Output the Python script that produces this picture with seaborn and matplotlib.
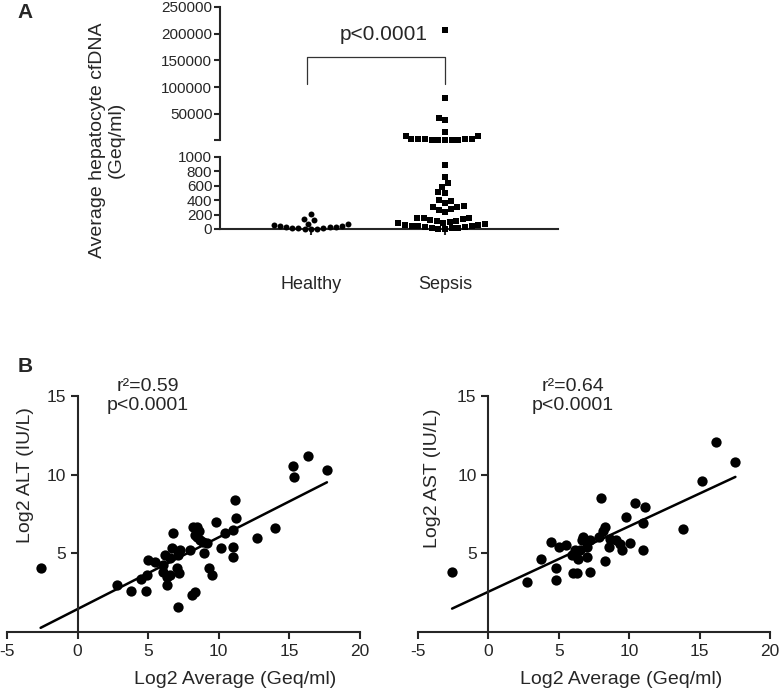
import numpy as np
import pandas as pd
import matplotlib
matplotlib.use('Agg')
import matplotlib.pyplot as plt
import seaborn as sns

# ---- panel A: hepatocyte cfDNA (Geq/ml) ----
groups = ['Healthy', 'Sepsis']
healthy_cfdna = [0, 3, 6, 10, 14, 18, 23, 28, 34, 40, 48, 56, 65, 75, 120, 135, 210]
sepsis_cfdna = [0, 5, 10, 15, 20, 25, 30, 36, 42, 48, 55, 62, 70, 78, 86, 95, 105, 115,
                125, 135, 146, 150, 155, 237, 269, 283, 306, 306, 315, 365, 388, 397,
                498, 511, 580, 635, 726, 886,
                1500, 1600, 1700, 1800, 1900, 2000, 2100, 2200, 2300, 2400, 8000, 9300,
                15500, 38900, 42000, 79000, 206700]
break_at = 1000
p_text_a = 'p<0.0001'

# ---- panel B: log2 ALT / AST vs log2 average cfDNA ----
alt_x = [-2.62, 2.77, 3.76, 4.47, 4.85, 4.89, 5.0, 5.5, 6.08, 6.2, 6.08, 6.3, 6.3, 6.55,
         6.67, 6.78, 6.55, 7.02, 7.09, 7.14, 7.26, 7.21, 7.97, 8.08, 8.32, 8.16, 8.44,
         8.44, 8.63, 8.68, 8.91, 9.15, 8.96, 9.34, 9.5, 9.81, 10.14, 10.45, 11.04, 11.04,
         11.04, 11.2, 11.18, 12.7, 13.95, 15.25, 15.34, 16.29, 17.66, 8.3]
alt_y = [4.08, 2.98, 2.6, 3.34, 2.62, 3.6, 4.57, 4.47, 4.26, 4.89, 3.83, 3.5, 2.98, 4.68,
         5.32, 6.32, 3.6, 4.04, 1.6, 4.89, 5.21, 3.72, 5.21, 2.34, 2.55, 6.7, 6.66, 6.06,
         6.45, 5.85, 5.74, 5.64, 5.0, 4.04, 3.6, 7.02, 5.32, 6.32, 6.49, 5.43, 4.74, 7.23,
         8.36, 5.96, 6.6, 10.53, 9.85, 11.21, 10.3, 6.17]
ast_x = [-2.58, 2.75, 3.73, 4.46, 4.81, 4.79, 5.02, 5.52, 5.92, 6.03, 6.27, 6.15, 6.38,
         6.5, 6.62, 6.74, 6.97, 6.97, 7.21, 7.21, 7.86, 7.98, 8.15, 8.31, 8.26, 8.61, 8.57,
         9.08, 9.32, 9.48, 9.74, 10.07, 10.4, 10.96, 11.0, 11.13, 13.85, 15.19, 16.17, 17.54]
ast_y = [3.82, 3.16, 4.61, 5.73, 4.08, 3.33, 5.41, 5.52, 4.88, 3.72, 3.72, 5.2, 4.67, 5.2,
         5.84, 6.05, 4.78, 5.41, 5.84, 3.82, 6.05, 8.49, 6.43, 6.65, 4.52, 5.94, 5.41, 5.84,
         5.58, 5.24, 7.32, 5.67, 8.22, 5.2, 6.9, 7.92, 6.52, 9.62, 12.06, 10.83]
stats_b = ['r²=0.59\np<0.0001', 'r²=0.64\np<0.0001']
ylabels_b = ['Log2 ALT (IU/L)', 'Log2 AST (IU/L)']
xlabel_b = 'Log2 Average (Geq/ml)'

sns.set_style('ticks')
plt.rcParams['font.family'] = ['Liberation Sans', 'DejaVu Sans']
plt.rcParams['axes.linewidth'] = 1.5
plt.rcParams['axes.unicode_minus'] = False

df = pd.DataFrame({'group': ['Healthy'] * len(healthy_cfdna) + ['Sepsis'] * len(sepsis_cfdna),
                   'value': healthy_cfdna + sepsis_cfdna})
df_lo = df[df.value <= break_at]
df_hi = df[df.value > break_at]

fig = plt.figure(figsize=(7.79, 6.91), dpi=100)

ax_hi = fig.add_axes([0.2824, 0.7974, 0.4339, 0.1925])
ax_lo = fig.add_axes([0.2824, 0.6686, 0.4339, 0.1042])
for ax, d in [(ax_hi, df_hi), (ax_lo, df_lo)]:
    for g, m, sz in zip(groups, ['o', 's'], [4.3, 4.6]):
        sub = d[d.group == g]
        if len(sub) == 0:
            continue
        sns.swarmplot(data=sub, x='group', y='value', order=groups, marker=m,
                      color='black', size=sz, ax=ax, clip_on=False)
    ax.set_xlim(-0.679, 1.843)
    ax.set_xlabel('')
    ax.set_ylabel('')
    ax.tick_params(axis='y', labelsize=11, length=4, width=1.5, pad=1.5)
    sns.despine(ax=ax)

ax_hi.set_ylim(break_at, 250000)
ax_hi.set_yticks([break_at, 50000, 100000, 150000, 200000, 250000])
ax_hi.set_yticklabels(['', '50000', '100000', '150000', '200000', '250000'])
ax_hi.spines['bottom'].set_visible(False)
ax_hi.set_xticks([])
ax_hi.patch.set_alpha(0)

ax_lo.set_ylim(0, break_at)
ax_lo.set_yticks(np.arange(0, break_at + 1, 200))
ax_lo.set_xticks([0, 1])
ax_lo.set_xticklabels(groups)
ax_lo.tick_params(axis='x', labelsize=13, length=4, width=1.5, pad=30)
ax_lo.patch.set_alpha(0)

# significance bracket
ax_hi.plot([-0.03, -0.03, 1, 1], [105000, 156000, 156000, 105000], color='#333333', lw=0.9,
           clip_on=False)
ax_hi.text(0.54, 198000, p_text_a, ha='center', va='center', fontsize=15)

fig.text(107 / 779, 1 - 140 / 691, 'Average hepatocyte cfDNA\n(Geq/ml)', rotation=90,
         ha='center', va='center', fontsize=14, linespacing=1.1, multialignment='center')
fig.text(25 / 779, 1 - 13 / 691, 'A', fontsize=15, fontweight='bold', ha='center', va='center')
fig.text(25 / 779, 1 - 366 / 691, 'B', fontsize=15, fontweight='bold', ha='center', va='center')

# ---- panel B ----
ax_l = fig.add_axes([0.009, 0.0854, 0.4531, 0.3415])
ax_r = fig.add_axes([0.5366, 0.0854, 0.4519, 0.3415])
panels = [(ax_l, alt_x, alt_y, 5, 0.051, 0.665, 0.646),
          (ax_r, ast_x, ast_y, 6, 0.040, 0.653, 0.577)]
for i, (ax, x, y, tx, ylx, yly, xlx) in enumerate(panels):
    sns.regplot(x=x, y=y, ax=ax, ci=None, color='black',
                scatter_kws={'s': 55, 'alpha': 1, 'linewidths': 0},
                line_kws={'lw': 1.8})
    ax.set_xlim(-5, 20)
    ax.set_ylim(0, 15)
    ax.set_xticks([-5, 0, 5, 10, 15, 20])
    ax.set_yticks([5, 10, 15])
    ax.spines['left'].set_position(('data', 0))
    sns.despine(ax=ax)
    ax.tick_params(labelsize=12.5, length=5, width=1.5)
    ax.tick_params(axis='x', pad=4)
    ax.patch.set_alpha(0)
    ax.text(tx, 15.0, stats_b[i], ha='center', va='center', fontsize=14, linespacing=1.1)
    ax.text(ylx, yly, ylabels_b[i], rotation=90, ha='center', va='center', fontsize=14,
            transform=ax.transAxes)
    ax.text(xlx, -0.203, xlabel_b, ha='center', va='center', fontsize=14,
            transform=ax.transAxes)

fig.savefig('out.png', dpi=100)
